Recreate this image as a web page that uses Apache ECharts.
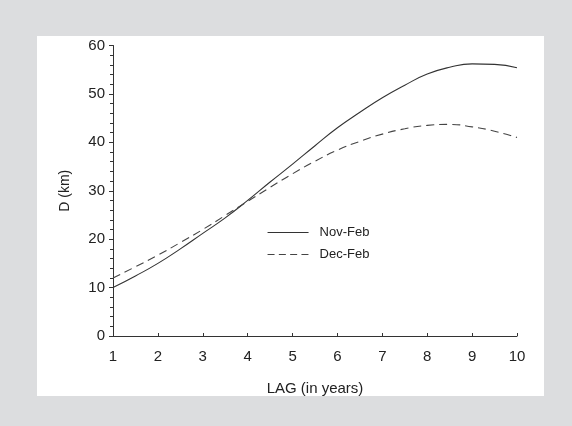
<!DOCTYPE html>
<html>
<head>
<meta charset="utf-8">
<script src="https://cdn.jsdelivr.net/npm/echarts@6/dist/echarts.min.js"></script>
<style>
  html, body { margin: 0; padding: 0; background: #dcdddf; }
  #chart { width: 572px; height: 426px; }
</style>
</head>
<body>
<div id="chart"></div>
<script>
// Lag values (years) at which the distance curves are sampled
const lags = [1, 1.5, 2, 2.5, 3, 3.5, 4, 4.5, 5, 5.5, 6, 6.5, 7, 7.5, 8, 8.5, 9, 9.5, 10];
// Distance D (km) for the Nov-Feb window
const novFeb = [10, 12.4, 15, 18, 21.2, 24.4, 28.0, 31.8, 35.5, 39.3, 43, 46.2, 49.2, 51.8, 54.1, 55.5, 56.2, 56.1, 55.4];
// Distance D (km) for the Dec-Feb window
const decFeb = [12, 14.3, 16.7, 19.3, 22, 24.9, 27.8, 30.7, 33.5, 36.1, 38.4, 40.2, 41.7, 42.8, 43.5, 43.7, 43.2, 42.3, 41];

const xTicks = [1, 2, 3, 4, 5, 6, 7, 8, 9, 10];
const yTicks = [0, 10, 20, 30, 40, 50, 60];

const FONT = '"Liberation Sans", Arial, sans-serif';
const INK = '#222';

const pairs = (ys) => lags.map((x, i) => [x, ys[i]]);

const chart = echarts.init(document.getElementById('chart'), null, { renderer: 'canvas' });

chart.setOption({
  backgroundColor: '#dcdddf',
  animation: false,
  graphic: [{
    type: 'rect',
    z: -10,
    shape: { x: 37, y: 36, width: 507, height: 360 },
    style: { fill: '#ffffff' }
  }],
  grid: { left: 113, right: 55, top: 45.5, bottom: 90, containLabel: false },
  legend: {
    orient: 'vertical',
    left: 267,
    top: 226,
    padding: 0,
    itemWidth: 41,
    itemHeight: 14,
    itemGap: 9,
    // legend keys are plain line samples, no marker
    itemStyle: { opacity: 0, borderWidth: 0 },
    lineStyle: { width: 1.1 },
    textStyle: { fontFamily: FONT, fontSize: 13, color: INK, padding: [0, 0, 0, 6] },
    data: [
      { name: 'Nov-Feb', lineStyle: { color: '#333', width: 1.1, type: 'solid' } },
      { name: 'Dec-Feb', lineStyle: { color: '#444', width: 1.1, type: [7, 4.3] } }
    ]
  },
  xAxis: {
    type: 'value',
    min: xTicks[0],
    max: xTicks[xTicks.length - 1],
    interval: 1,
    name: 'LAG (in years)',
    nameLocation: 'middle',
    nameGap: 45,
    nameTextStyle: { fontFamily: FONT, fontSize: 15, color: INK },
    axisLine: { show: true, lineStyle: { color: '#333', width: 1 } },
    axisTick: { show: true, inside: true, length: 3, lineStyle: { color: '#333' } },
    axisLabel: { fontFamily: FONT, fontSize: 15, color: INK, margin: 13 },
    splitLine: { show: false }
  },
  yAxis: {
    type: 'value',
    min: yTicks[0],
    max: yTicks[yTicks.length - 1],
    interval: 10,
    name: 'D (km)',
    nameLocation: 'middle',
    nameGap: 41,
    nameRotate: 90,
    nameTextStyle: { fontFamily: FONT, fontSize: 14, color: INK },
    axisLine: { show: true, lineStyle: { color: '#333', width: 1 } },
    axisTick: { show: true, length: 4, lineStyle: { color: '#333' } },
    minorTick: { show: true, splitNumber: 5, length: 3, lineStyle: { color: '#333' } },
    axisLabel: { fontFamily: FONT, fontSize: 15, color: INK, margin: 8 },
    splitLine: { show: false }
  },
  series: [
    {
      name: 'Nov-Feb',
      type: 'line',
      smooth: true,
      showSymbol: false,
      symbol: 'none',
      data: pairs(novFeb),
      lineStyle: { color: '#333', width: 1.1, type: 'solid' },
      itemStyle: { color: '#333' }
    },
    {
      name: 'Dec-Feb',
      type: 'line',
      smooth: true,
      showSymbol: false,
      symbol: 'none',
      data: pairs(decFeb),
      lineStyle: { color: '#444', width: 1.1, type: [8, 5] },
      itemStyle: { color: '#444' }
    }
  ]
});
</script>
</body>
</html>
